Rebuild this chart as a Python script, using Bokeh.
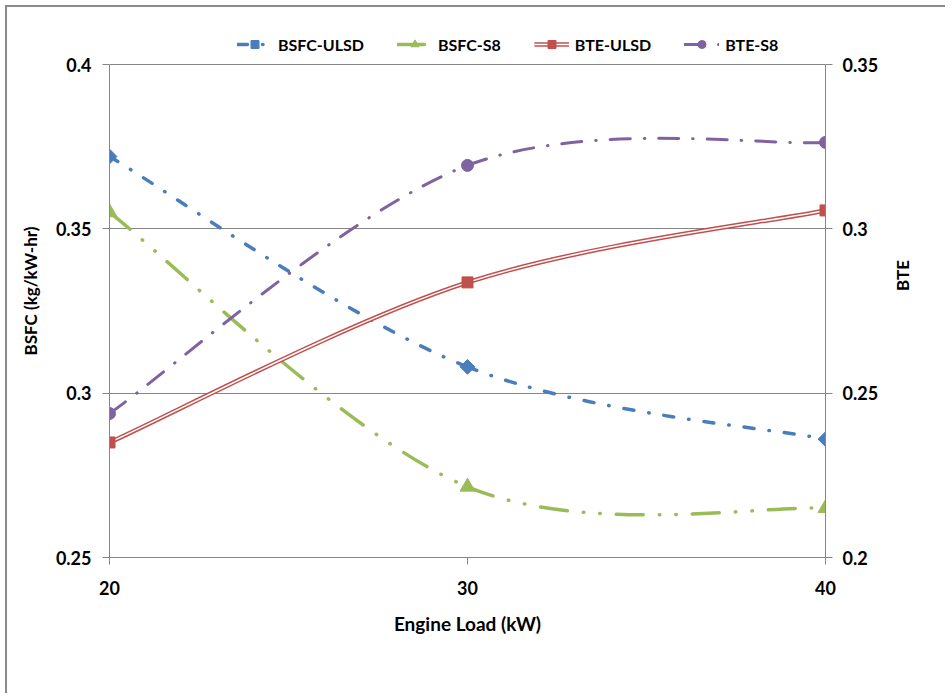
import math
from bokeh.plotting import figure
from bokeh.models import (Range1d, LinearAxis, FixedTicker, Legend, LegendItem,
                          ColumnDataSource)
from bokeh.core.properties import value
from bokeh.embed import file_html
from bokeh.resources import INLINE

# ---- data ----
load_kw = [20, 30, 40]
bsfc_ulsd = [0.372, 0.308, 0.286]
bsfc_s8 = [0.355, 0.2715, 0.265]
bte_ulsd = [0.235, 0.2837, 0.3056]
bte_s8 = [0.2438, 0.3193, 0.3263]

x_ticks = [20, 30, 40]
bsfc_ticks = [0.25, 0.3, 0.35, 0.4]
bsfc_tick_labels = ["0.25", "0.3", "0.35", "0.4"]
bte_ticks = [0.2, 0.25, 0.3, 0.35]
bte_tick_labels = ["0.2", "0.25", "0.3", "0.35"]

series_names = ["BSFC-ULSD", "BSFC-S8", "BTE-ULSD", "BTE-S8"]

FONT = "Lato"
GRAY = "#868686"

# layout (pixels)
AXIS_H = 493          # height of the 0.25..0.4 axis
LEGEND_ROOM = 40      # extra frame room above the axes for the legend
TOP = 57 - LEGEND_ROOM


def smooth_source(xs, ys, t=1.0 / 6.0):
    """Bezier segments through the data points (Excel-style smoothing)."""
    n = len(xs)
    d = dict(x0=[], y0=[], x1=[], y1=[], cx0=[], cy0=[], cx1=[], cy1=[])
    for i in range(n - 1):
        a = i - 1 if i > 0 else i
        b = i + 2 if i + 2 < n else i + 1
        d["x0"].append(xs[i]); d["y0"].append(ys[i])
        d["x1"].append(xs[i + 1]); d["y1"].append(ys[i + 1])
        d["cx0"].append(xs[i] + (xs[i + 1] - xs[a]) * t)
        d["cy0"].append(ys[i] + (ys[i + 1] - ys[a]) * t)
        d["cx1"].append(xs[i + 1] - (xs[b] - xs[i]) * t)
        d["cy1"].append(ys[i + 1] - (ys[b] - ys[i]) * t)
    return ColumnDataSource(d)


def extended(ticks):
    lo, hi = ticks[0], ticks[-1]
    return Range1d(lo, hi + (hi - lo) * LEGEND_ROOM / AXIS_H)


p = figure(width=940, height=688,
           x_range=Range1d(x_ticks[0], x_ticks[-1]), y_range=extended(bsfc_ticks),
           output_backend="svg", toolbar_location=None,
           min_border_left=102, min_border_right=122,
           min_border_top=TOP, min_border_bottom=138,
           x_axis_label="Engine Load (kW)", y_axis_label="BSFC (kg/kW-hr)")
p.styles = {"border-left": "2px solid #8a8a8a", "border-top": "2px solid #8a8a8a",
            "margin-left": "5px", "margin-top": "5px"}
p.outline_line_color = None
p.background_fill_color = "white"
p.border_fill_color = "white"

p.extra_y_ranges = {"bte": extended(bte_ticks)}

# grids
p.xgrid.visible = False
p.ygrid.ticker = FixedTicker(ticks=bsfc_ticks)
p.ygrid.grid_line_color = GRAY
p.ygrid.grid_line_width = 1

def style_axis(ax, title_size="17px"):
    ax.axis_line_color = GRAY
    ax.axis_line_width = 1
    ax.major_tick_line_color = GRAY
    ax.major_tick_in = 0
    ax.major_tick_out = 7
    ax.minor_tick_line_color = None
    ax.major_label_text_font = FONT
    ax.major_label_text_font_style = "bold"
    ax.major_label_text_font_size = "18px"
    ax.major_label_text_color = "black"
    ax.axis_label_text_font = FONT
    ax.axis_label_text_font_style = "bold"
    ax.axis_label_text_font_size = title_size
    ax.axis_label_text_color = "black"

xax = p.xaxis[0]
style_axis(xax, "19px")
xax.ticker = FixedTicker(ticks=x_ticks)
xax.major_label_standoff = 16
xax.axis_label_standoff = 14

yax = p.yaxis[0]
style_axis(yax, "17px")
yax.ticker = FixedTicker(ticks=bsfc_ticks)
yax.bounds = (bsfc_ticks[0], bsfc_ticks[-1])
yax.major_label_overrides = dict(zip(bsfc_ticks, bsfc_tick_labels))
yax.major_label_standoff = 11
yax.axis_label_standoff = 12

rax = LinearAxis(y_range_name="bte", axis_label="BTE")
style_axis(rax, "17px")
rax.ticker = FixedTicker(ticks=bte_ticks)
rax.bounds = (bte_ticks[0], bte_ticks[-1])
rax.major_label_overrides = dict(zip(bte_ticks, bte_tick_labels))
rax.major_label_standoff = 10
rax.axis_label_standoff = 21
rax.axis_label_orientation = math.pi / 2
p.add_layout(rax, "right")

BLUE = "#4A7EBB"
GREEN = "#9BBB59"
RED = "#C0504D"
PURPLE = "#7F62A2"

bez = dict(x0="x0", y0="y0", x1="x1", y1="y1", cx0="cx0", cy0="cy0", cx1="cx1", cy1="cy1")

# BSFC-ULSD
r1l = p.bezier(source=smooth_source(load_kw, bsfc_ulsd), line_color=BLUE, line_width=3.5,
               line_dash=value([10, 15, 0.5, 15]), line_cap="round", **bez)
r1m = p.scatter(load_kw, bsfc_ulsd, marker="square", angle=math.pi / 4, size=10.5,
                fill_color=BLUE, line_color=BLUE)

# BSFC-S8
r2l = p.bezier(source=smooth_source(load_kw, bsfc_s8), line_color=GREEN, line_width=3.5,
               line_dash=value([27, 16, 0.5, 16, 0.5, 16]), line_cap="round", **bez)
r2m = p.scatter(load_kw, bsfc_s8, marker="triangle", size=15,
                fill_color=GREEN, line_color=GREEN)

# BTE-ULSD (double line)
src3 = smooth_source(load_kw, bte_ulsd)
r3a = p.bezier(source=src3, line_color=RED, line_width=4.5, y_range_name="bte", **bez)
r3b = p.bezier(source=src3, line_color="white", line_width=1.5, y_range_name="bte", **bez)
r3m = p.scatter(load_kw, bte_ulsd, marker="square", size=11, fill_color=RED,
                line_color=RED, y_range_name="bte")

# BTE-S8
r4l = p.bezier(source=smooth_source(load_kw, bte_s8), line_color=PURPLE, line_width=3,
               line_dash=value([20, 14, 0.5, 14]), line_cap="round", y_range_name="bte", **bez)
r4m = p.scatter(load_kw, bte_s8, marker="circle", size=12, fill_color=PURPLE,
                line_color=PURPLE, y_range_name="bte")

legend = Legend(items=[
    LegendItem(label=series_names[0], renderers=[r1l, r1m]),
    LegendItem(label=series_names[1], renderers=[r2l, r2m]),
    LegendItem(label=series_names[2], renderers=[r3a, r3b, r3m]),
    LegendItem(label=series_names[3], renderers=[r4l, r4m]),
], orientation="horizontal", location=(128, AXIS_H + 10))
legend.glyph_width = 35
legend.glyph_height = 20
legend.label_standoff = 6
legend.spacing = 33
legend.padding = 0
legend.margin = 0
legend.border_line_color = None
legend.background_fill_alpha = 0
legend.label_text_font = FONT
legend.label_text_font_style = "bold"
legend.label_text_font_size = "16px"
legend.label_text_color = "black"
p.add_layout(legend)

open("out.html", "w").write(file_html(p, INLINE))
